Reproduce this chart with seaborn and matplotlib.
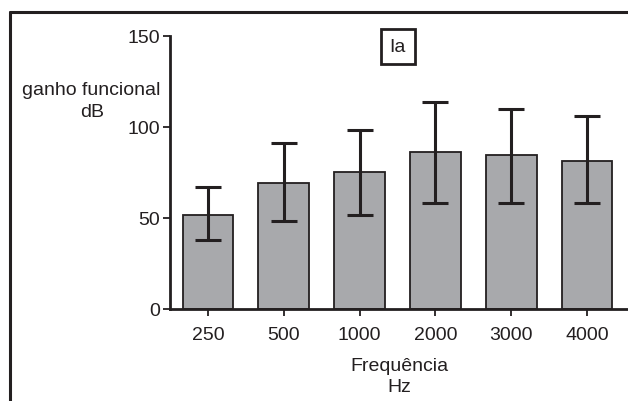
import matplotlib

matplotlib.use("Agg")

import matplotlib.pyplot as plt
import numpy as np
import pandas as pd
import seaborn as sns
from matplotlib.lines import Line2D

# values
frequencies = ["250", "500", "1000", "2000", "3000", "4000"]
gain_mean = [51.5, 69, 75, 86.5, 84.5, 81.5]
err_lower = [13.5, 20.5, 23.5, 28.5, 26.5, 23.5]
err_upper = [15.5, 22, 23.5, 27.5, 25.5, 24.5]

y_ticks = [0, 50, 100, 150]

BAR_COLOR = "#a8a9ac"
INK = "#231f20"
FS = 14


def build_frame() -> pd.DataFrame:
    return pd.DataFrame({"freq": frequencies, "gain": gain_mean})


def draw_chart(output_path: str = "out.png") -> None:
    sns.set_theme(style="white")
    plt.rcParams["font.family"] = ["Liberation Sans", "DejaVu Sans"]

    fig = plt.figure(figsize=(6.28, 4.02), dpi=100)
    ax = fig.add_axes([0.2707, 0.2289, 0.7293, 0.6791])

    data = build_frame()
    sns.barplot(
        data=data,
        x="freq",
        y="gain",
        order=frequencies,
        color=BAR_COLOR,
        saturation=1,
        edgecolor=INK,
        linewidth=1.3,
        width=0.67,
        errorbar=None,
        ax=ax,
    )

    positions = np.arange(len(frequencies))
    ax.errorbar(
        positions,
        gain_mean,
        yerr=[err_lower, err_upper],
        fmt="none",
        ecolor=INK,
        elinewidth=2.2,
        capsize=9.5,
        capthick=2.2,
        zorder=5,
    )

    ax.set_ylim(0, 150)
    ax.set_xlim(-0.5, 5.54)
    ax.set_yticks(y_ticks)
    ax.set_yticklabels([str(t) for t in y_ticks])

    for side in ("top", "right"):
        ax.spines[side].set_visible(False)
    for side in ("left", "bottom"):
        ax.spines[side].set_linewidth(2.0)
        ax.spines[side].set_color(INK)

    ax.tick_params(axis="both", which="major", direction="out", length=5, width=1.3,
                   color=INK, labelsize=FS, labelcolor=INK, pad=2, bottom=True, left=True)
    ax.tick_params(axis="x", pad=7)

    ax.set_xlabel("Frequência\nHz", fontsize=FS, color=INK, labelpad=10, linespacing=1.35)
    ax.set_ylabel("ganho funcional\ndB", fontsize=FS, color=INK, rotation=0,
                  ha="center", va="center", linespacing=1.4)
    ax.yaxis.set_label_coords(-0.171, 0.765)

    ax.text(0.497, 0.962, "Ia", transform=ax.transAxes, ha="center", va="center",
            fontsize=FS, color=INK,
            bbox=dict(boxstyle="square,pad=0.45", facecolor="white", edgecolor=INK, linewidth=2.0))

    # page frame (top and left border lines)
    fig.add_artist(Line2D([0.016, 1.0], [0.967, 0.967], transform=fig.transFigure,
                          color=INK, linewidth=2.2))
    fig.add_artist(Line2D([0.016, 0.016], [0.0, 0.967], transform=fig.transFigure,
                          color=INK, linewidth=2.2))

    fig.savefig(output_path, dpi=100)
    plt.close(fig)


if __name__ == "__main__":
    draw_chart()
